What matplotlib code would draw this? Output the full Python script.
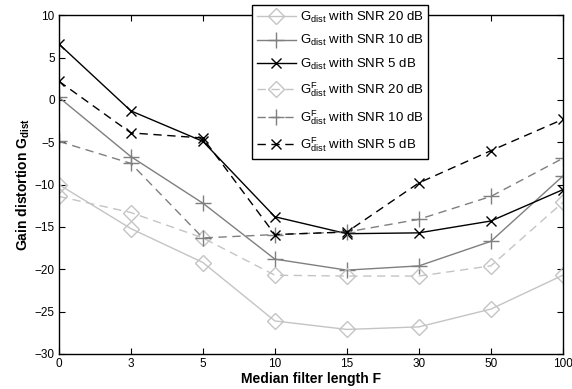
import matplotlib
matplotlib.use('Agg')
import matplotlib.pyplot as plt
import numpy as np

plt.rcParams['font.family'] = ['Liberation Sans', 'DejaVu Sans']
plt.rcParams['mathtext.fontset'] = 'custom'
plt.rcParams['mathtext.rm'] = 'Liberation Sans'
plt.rcParams['mathtext.it'] = 'Liberation Sans'
plt.rcParams['mathtext.bf'] = 'Liberation Sans:bold'

# datos
filtros = ['0', '3', '5', '10', '15', '30', '50', '100']
g_20 = [-10.0, -15.2, -19.2, -26.1, -27.1, -26.8, -24.7, -20.7]
g_10 = [0.3, -6.7, -12.2, -18.8, -20.1, -19.6, -16.7, -9.0]
g_5 = [6.6, -1.3, -4.9, -13.8, -15.8, -15.7, -14.3, -10.6]
gf_20 = [-11.4, -13.3, -16.3, -20.7, -20.8, -20.8, -19.6, -12.1]
gf_10 = [-4.9, -7.5, -16.3, -15.9, -15.6, -14.1, -11.4, -6.9]
gf_5 = [2.2, -3.9, -4.5, -15.9, -15.6, -9.8, -6.0, -2.3]

colors = {'light': '#c4c4c4', 'mid': '#7f7f7f', 'dark': '#000000'}

fig = plt.figure(figsize=(5.72, 3.89), dpi=100)
ax = fig.add_axes([0.103, 0.09, 0.881, 0.871])
x = np.arange(len(filtros))

ax.plot(x, g_20, color=colors['light'], lw=1, marker='D', ms=8, mfc='none',
        label=r'$\mathrm{G_{dist}}$ with SNR 20 dB')
ax.plot(x, g_10, color=colors['mid'], lw=1, marker='+', ms=11,
        label=r'$\mathrm{G_{dist}}$ with SNR 10 dB')
ax.plot(x, g_5, color=colors['dark'], lw=1, marker='x', ms=7,
        label=r'$\mathrm{G_{dist}}$ with SNR 5 dB')
ax.plot(x, gf_20, color=colors['light'], lw=1, ls=(0, (6, 4)), marker='D', ms=8, mfc='none',
        label=r'$\mathrm{G^{F}_{dist}}$ with SNR 20 dB')
ax.plot(x, gf_10, color=colors['mid'], lw=1, ls=(0, (6, 4)), marker='+', ms=11,
        label=r'$\mathrm{G^{F}_{dist}}$ with SNR 10 dB')
ax.plot(x, gf_5, color=colors['dark'], lw=1, ls=(0, (6, 4)), marker='x', ms=7,
        label=r'$\mathrm{G^{F}_{dist}}$ with SNR 5 dB')

ax.set_xlim(0, len(filtros) - 1)
ax.set_ylim(-30, 10)
ax.set_xticks(x)
ax.set_xticklabels(filtros)
ax.set_yticks(np.arange(-30, 11, 5))
ax.tick_params(direction='in', top=True, right=True, labelsize=8.5, length=4, pad=3)
for s in ax.spines.values():
    s.set_linewidth(1)

ax.set_xlabel('Median filter length F', fontsize=10, fontweight='bold', labelpad=1)
ax.set_ylabel(r'Gain distortion $\mathbf{G_{dist}}$', fontsize=10, fontweight='bold', labelpad=2)

leg = ax.legend(loc='upper left', bbox_to_anchor=(0.383, 1.03), borderaxespad=0,
                fontsize=9.5, handlelength=3.0, labelspacing=0.65, fancybox=False,
                framealpha=1, edgecolor='black', borderpad=0.35, handletextpad=0.3)
leg.get_frame().set_linewidth(1)

plt.savefig('out.png', dpi=100)
